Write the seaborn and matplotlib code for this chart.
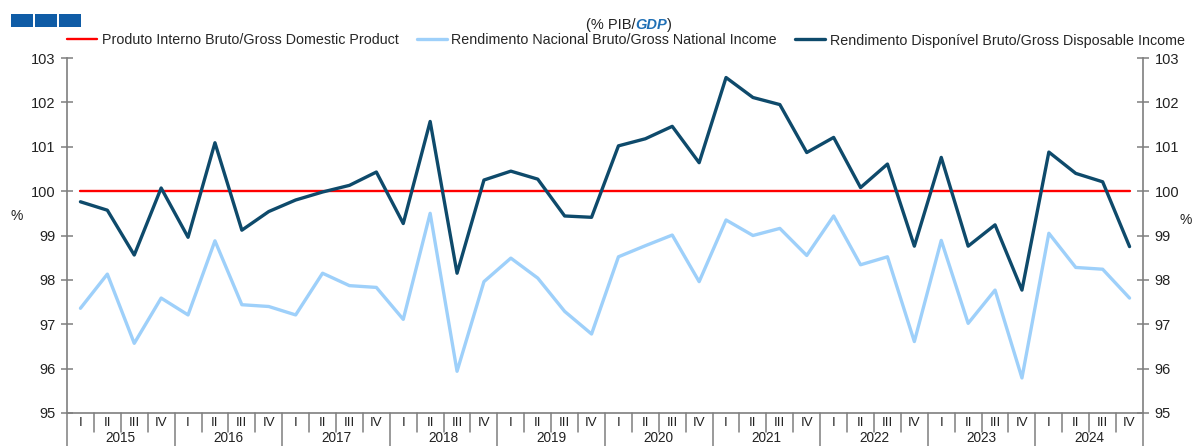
import matplotlib
matplotlib.use("Agg")
import matplotlib.pyplot as plt
import matplotlib.transforms as mtransforms
from matplotlib.patches import Rectangle
import seaborn as sns
import pandas as pd
import numpy as np

years = [2015, 2016, 2017, 2018, 2019, 2020, 2021, 2022, 2023, 2024]
quarters = ["I", "II", "III", "IV"]

gdp = [100.0] * 40

gni = [97.36, 98.13, 96.57, 97.59, 97.21, 98.88, 97.44, 97.40, 97.21, 98.15,
       97.87, 97.83, 97.11, 99.50, 95.94, 97.96, 98.49, 98.04, 97.29, 96.78,
       98.52, 98.77, 99.01, 97.96, 99.35, 99.00, 99.16, 98.55, 99.44, 98.34,
       98.52, 96.61, 98.89, 97.02, 97.77, 95.79, 99.05, 98.28, 98.24, 97.59]

gdi = [99.76, 99.57, 98.56, 100.07, 98.96, 101.09, 99.12, 99.54, 99.80, 99.98,
       100.13, 100.43, 99.27, 101.57, 98.15, 100.25, 100.45, 100.27, 99.44, 99.41,
       101.02, 101.18, 101.46, 100.64, 102.56, 102.11, 101.95, 100.87, 101.21, 100.08,
       100.61, 98.76, 100.76, 98.76, 99.24, 97.77, 100.88, 100.40, 100.21, 98.75]

labels = ["Produto Interno Bruto/Gross Domestic Product",
          "Rendimento Nacional Bruto/Gross National Income",
          "Rendimento Disponível Bruto/Gross Disposable Income"]
colors = ["#ff0000", "#9ed0fa", "#0e4a6b"]
widths = [1.7, 2.4, 2.4]

yticks = [95, 96, 97, 98, 99, 100, 101, 102, 103]

sns.set_style("white")
plt.rcParams['font.family'] = ['Liberation Sans', 'DejaVu Sans']

W, H = 1197, 446
fig = plt.figure(figsize=(W / 100, H / 100), dpi=100)
ax = fig.add_axes([67 / W, 1 - 413 / H, (1143 - 67) / W, (413 - 58) / H])

idx = np.arange(len(gdi))
for vals, lab, col, lw in zip([gdp, gni, gdi], labels, colors, widths):
    df = pd.DataFrame({"t": idx, "v": vals})
    sns.lineplot(data=df, x="t", y="v", ax=ax, color=col, linewidth=lw, label=lab)

ax.set_xlim(-0.5, len(idx) - 0.5)
ax.set_ylim(95, 103)
ax.set_yticks(yticks)
ax.set_xticks([])
ax.set_xlabel("")
ax.set_ylabel("")

gray = "#7f7f7f"
txtc = "#222222"
for s in ["left", "right", "bottom"]:
    ax.spines[s].set_color(gray)
    ax.spines[s].set_linewidth(1.2)
ax.spines["top"].set_visible(False)
ax.tick_params(axis="y", direction="inout", length=9, width=1.1, color=gray,
               labelsize=10.5, labelcolor=txtc, pad=4)

ax2 = ax.twinx()
ax2.set_ylim(95, 103)
ax2.set_yticks(yticks)
for s in ["left", "right", "bottom", "top"]:
    ax2.spines[s].set_visible(False)
ax2.tick_params(axis="y", direction="inout", length=9, width=1.1, color=gray,
                labelsize=10.5, labelcolor=txtc, pad=4)

ax.text(-0.047, 0.555, "%", transform=ax.transAxes, fontsize=10, ha="center", va="center", color=txtc)
ax2.text(1.04, 0.545, "%", transform=ax.transAxes, fontsize=10, ha="center", va="center", color=txtc)

# category axis: quarters and years
trans = mtransforms.blended_transform_factory(ax.transData, ax.transAxes)
ppx = 1.0 / (413 - 58)
for i in range(len(idx)):
    ax.text(i, -10.5 * ppx, quarters[i % 4], transform=trans, ha="center", va="center",
            fontsize=9.5, color=txtc, clip_on=False)
for i in range(len(idx) + 1):
    bottom = -40 * ppx if i % 4 == 0 else -19 * ppx
    ax.plot([i - 0.5, i - 0.5], [0, bottom], transform=trans, color=gray, lw=1.1, clip_on=False)
for k, yr in enumerate(years):
    ax.text(4 * k + 1.5, -17.5 * ppx, str(yr), transform=trans, ha="center", va="top",
            fontsize=9.8, color=txtc, clip_on=False)

# legend
handles, labs = ax.get_legend_handles_labels()
ax.get_legend().remove()
fig.legend(handles, labs, loc="center", bbox_to_anchor=(626 / W, 1 - 40.5 / H), ncol=3,
           frameon=False, fontsize=10.3, handlelength=2.1, handletextpad=0.3,
           columnspacing=1.3, borderaxespad=0)

# title with blue GDP
fig.canvas.draw()
r = fig.canvas.get_renderer()
ty = 1 - 25 / H
t1 = fig.text(0, ty, "(% PIB/", fontsize=10.5, va="center", color=txtc)
t2 = fig.text(0, ty, "GDP", fontsize=10.5, va="center", color="#1f6fb5", style="italic", fontweight="bold")
t3 = fig.text(0, ty, ")", fontsize=10.5, va="center", color=txtc)
w1 = t1.get_window_extent(r).width
w2 = t2.get_window_extent(r).width
w3 = t3.get_window_extent(r).width
x0 = 629 - (w1 + w2 + w3) / 2
t1.set_x(x0 / W)
t2.set_x((x0 + w1) / W)
t3.set_x((x0 + w1 + w2) / W)

# logo squares
for xs in [11, 35, 59]:
    fig.patches.append(Rectangle((xs / W, 1 - 27 / H), 22 / W, 13 / H, transform=fig.transFigure,
                                 facecolor="#0f5ca6", edgecolor="none"))

fig.savefig("out.png", dpi=100)
